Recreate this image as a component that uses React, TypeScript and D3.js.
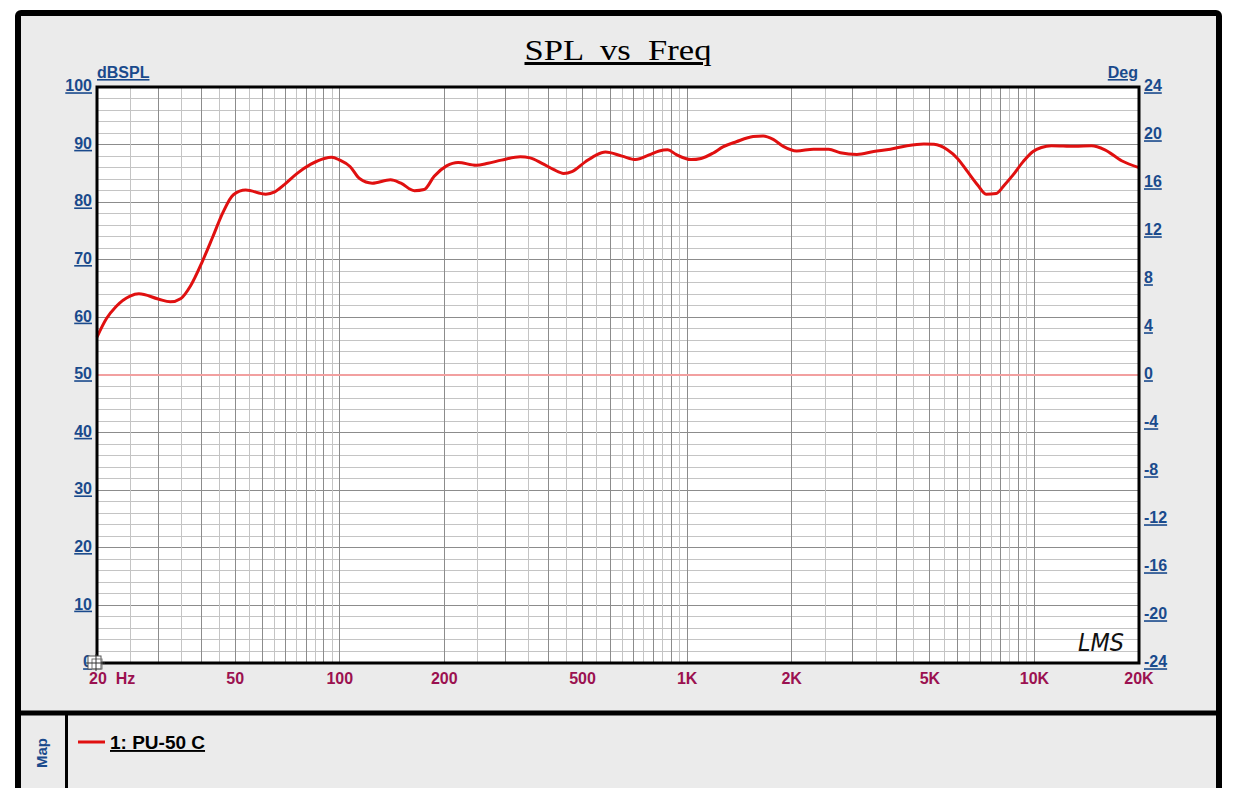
import React from "react";
import * as d3 from "d3";

// SPL response (Hz, dB)
const freqHz = [
  20, 21.3, 22.7, 24.9, 26.4, 30, 32.5, 34.9, 37.2, 40.2, 43.1, 46, 49.4, 53.6, 61.2, 65, 69.4, 75.4,
  82.6, 90.3, 94.7, 100, 107, 114, 124, 140, 150, 164, 175, 187, 203, 219, 247, 267, 292, 331, 353,
  382, 412, 441, 466, 509, 544, 582, 650, 711, 777, 831, 879, 929, 1026, 1097, 1186, 1268, 1386,
  1549, 1656, 1770, 1892, 2068, 2311, 2554, 2761, 3083, 3445, 3849, 4299, 4803, 5136, 5615, 6003,
  6419, 6862, 7256, 7757, 8199, 8669, 9267, 9907, 10474, 11196, 13070, 14603, 15952, 17824, 20000,
];
const splDb = [
  56.6, 59.8, 61.9, 63.7, 64.1, 63.2, 62.7, 63.3, 65.5, 69.7, 74, 78.1, 81.3, 82.1, 81.4, 81.8, 83.1, 85,
  86.6, 87.6, 87.8, 87.3, 86.2, 84.1, 83.3, 83.9, 83.3, 82.0, 82.2, 84.5, 86.3, 86.9, 86.4, 86.75, 87.3, 87.9, 87.7,
  86.75, 85.7, 85.0, 85.3, 87.0, 88.1, 88.7, 88.0, 87.4, 88.2, 88.9, 89.1, 88.3, 87.4, 87.6, 88.5, 89.6, 90.5,
  91.4, 91.5, 90.9, 89.7, 88.9, 89.2, 89.2, 88.6, 88.3, 88.8, 89.2, 89.8, 90.1, 90.05, 89.1, 87.6,
  85.3, 83.0, 81.4, 81.5, 83.0, 84.7, 87.0, 88.8, 89.5, 89.8, 89.7, 89.8, 89.1, 87.2, 86.0,
];

// phase trace (flat at 0 deg)
const phaseHz = [20, 20000];
const phaseDeg = [0, 0];

const leftTicks = [0, 10, 20, 30, 40, 50, 60, 70, 80, 90, 100];
const rightTicks = [-24, -20, -16, -12, -8, -4, 0, 4, 8, 12, 16, 20, 24];
const xTicks = [
  { v: 50, label: "50" },
  { v: 100, label: "100" },
  { v: 200, label: "200" },
  { v: 500, label: "500" },
  { v: 1000, label: "1K" },
  { v: 2000, label: "2K" },
  { v: 5000, label: "5K" },
  { v: 10000, label: "10K" },
  { v: 20000, label: "20K" },
];
const decades = [10, 100, 1000, 10000];
const multipliers = [2, 2.5, 3, 3.5, 4, 4.5, 5, 5.5, 6, 6.5, 7, 7.5, 8, 8.5, 9, 9.5, 10];

const W = 1234;
const H = 788;
const plot = { left: 97, top: 87, right: 1139, bottom: 663 };

const BLUE = "#1a4a8c";
const MAROON = "#9b1150";
const SANS = "'Liberation Sans', Arial, sans-serif";

export default function App() {
  const x = d3.scaleLog().domain([20, 20000]).range([plot.left, plot.right]);
  const y = d3.scaleLinear().domain([0, 100]).range([plot.bottom, plot.top]);
  const yR = d3.scaleLinear().domain([-24, 24]).range([plot.bottom, plot.top]);

  const gridX: { f: number; major: boolean }[] = [];
  decades.forEach((d) => {
    multipliers.forEach((m) => {
      const f = d * m;
      if (f > 20 && f < 20000) gridX.push({ f, major: Number.isInteger(m) });
    });
  });
  const gridY = d3.range(2, 100, 2);

  const line = d3
    .line<number>()
    .x((_, i) => x(freqHz[i]))
    .y((d) => y(d))
    .curve(d3.curveMonotoneX);
  const phaseLine = d3
    .line<number>()
    .x((_, i) => x(phaseHz[i]))
    .y((d) => yR(d));

  return (
    <svg
      width={W}
      height={H}
      style={{ position: "absolute", left: 0, top: 0, background: "#fff" }}
    >
      {/* outer frame */}
      <rect x={18} y={13} width={1201} height={H} fill="#ebebeb" stroke="#000" strokeWidth={6} rx={3} />
      <line x1={15} x2={1222} y1={713} y2={713} stroke="#000" strokeWidth={5} />
      <line x1={66.5} x2={66.5} y1={713} y2={H} stroke="#000" strokeWidth={3} />

      {/* title */}
      <text
        x={618}
        y={60}
        textAnchor="middle"
        fontFamily="'Liberation Serif', 'Times New Roman', serif"
        fontSize={30}
        textDecoration="underline"
        textLength={187}
        lengthAdjust="spacingAndGlyphs"
        style={{ whiteSpace: "pre" }}
      >
        SPL  vs  Freq
      </text>

      {/* plot background */}
      <rect
        x={plot.left}
        y={plot.top}
        width={plot.right - plot.left}
        height={plot.bottom - plot.top}
        fill="#fff"
      />

      {/* grid */}
      <g shapeRendering="crispEdges">
        {gridY.map((v) => (
          <line
            key={"gy" + v}
            x1={plot.left}
            x2={plot.right}
            y1={y(v)}
            y2={y(v)}
            stroke={v % 10 === 0 ? "#8c8c8c" : "#c4c4c4"}
            strokeWidth={1}
          />
        ))}
        {gridX.map((g) => (
          <line
            key={"gx" + g.f}
            x1={x(g.f)}
            x2={x(g.f)}
            y1={plot.top}
            y2={plot.bottom}
            stroke={g.major ? "#8c8c8c" : "#c4c4c4"}
            strokeWidth={1}
          />
        ))}
      </g>

      {/* phase trace */}
      <path d={phaseLine(phaseDeg) || ""} fill="none" stroke="#f2a0a0" strokeWidth={2} />

      {/* SPL trace */}
      <path d={line(splDb) || ""} fill="none" stroke="#e01010" strokeWidth={3} strokeLinejoin="round" />

      {/* plot border */}
      <rect
        x={plot.left}
        y={plot.top}
        width={plot.right - plot.left}
        height={plot.bottom - plot.top}
        fill="none"
        stroke="#000"
        strokeWidth={3}
      />

      {/* LMS mark */}
      <text
        x={1101}
        y={651}
        textAnchor="middle"
        fontFamily="'DejaVu Sans', sans-serif"
        fontStyle="italic"
        fontWeight={300}
        fontSize={24}
        textLength={46}
        lengthAdjust="spacingAndGlyphs"
        fill="#111"
      >
        LMS
      </text>

      {/* left axis */}
      <text x={97} y={78} fontFamily={SANS} fontWeight="bold" fontSize={16} fill={BLUE} textDecoration="underline">
        dBSPL
      </text>
      {leftTicks.map((t) => (
        <text
          key={"l" + t}
          x={92}
          y={y(t)}
          textAnchor="end"
          dominantBaseline="middle"
          fontFamily={SANS}
          fontWeight="bold"
          fontSize={16}
          fill={BLUE}
          textDecoration="underline"
        >
          {t}
        </text>
      ))}

      {/* right axis */}
      <text x={1138} y={78} textAnchor="end" fontFamily={SANS} fontWeight="bold" fontSize={16} fill={BLUE} textDecoration="underline">
        Deg
      </text>
      {rightTicks.map((t) => (
        <text
          key={"r" + t}
          x={1144}
          y={yR(t)}
          dominantBaseline="middle"
          fontFamily={SANS}
          fontWeight="bold"
          fontSize={16}
          fill={BLUE}
          textDecoration="underline"
        >
          {t}
        </text>
      ))}

      {/* x axis */}
      <text x={89} y={684} fontFamily={SANS} fontWeight="bold" fontSize={16} fill={MAROON} style={{ whiteSpace: "pre" }}>
        20  Hz
      </text>
      {xTicks.map((t) => (
        <text
          key={"x" + t.v}
          x={x(t.v)}
          y={684}
          textAnchor="middle"
          fontFamily={SANS}
          fontWeight="bold"
          fontSize={16}
          fill={MAROON}
        >
          {t.label}
        </text>
      ))}

      {/* cursor icon at origin */}
      <g transform="translate(88,656)">
        <rect x={0} y={0} width={13} height={13} fill="#fff" stroke="#555" strokeWidth={1} />
        <rect x={4} y={3} width={10} height={10} fill="none" stroke="#777" strokeWidth={1} />
        <line x1={8} x2={8} y1={-2} y2={15} stroke="#333" strokeWidth={1} />
        <line x1={-2} x2={17} y1={7} y2={7} stroke="#333" strokeWidth={1} />
      </g>

      {/* legend */}
      <text
        transform="translate(47,753) rotate(-90)"
        textAnchor="middle"
        fontFamily={SANS}
        fontWeight="bold"
        fontSize={15}
        fill={BLUE}
      >
        Map
      </text>
      <line x1={78} x2={105} y1={742} y2={742} stroke="#e01010" strokeWidth={3} />
      <text x={110} y={749} fontFamily={SANS} fontWeight="bold" fontSize={19} fill="#000" textDecoration="underline">
        1: PU-50 C
      </text>
    </svg>
  );
}
